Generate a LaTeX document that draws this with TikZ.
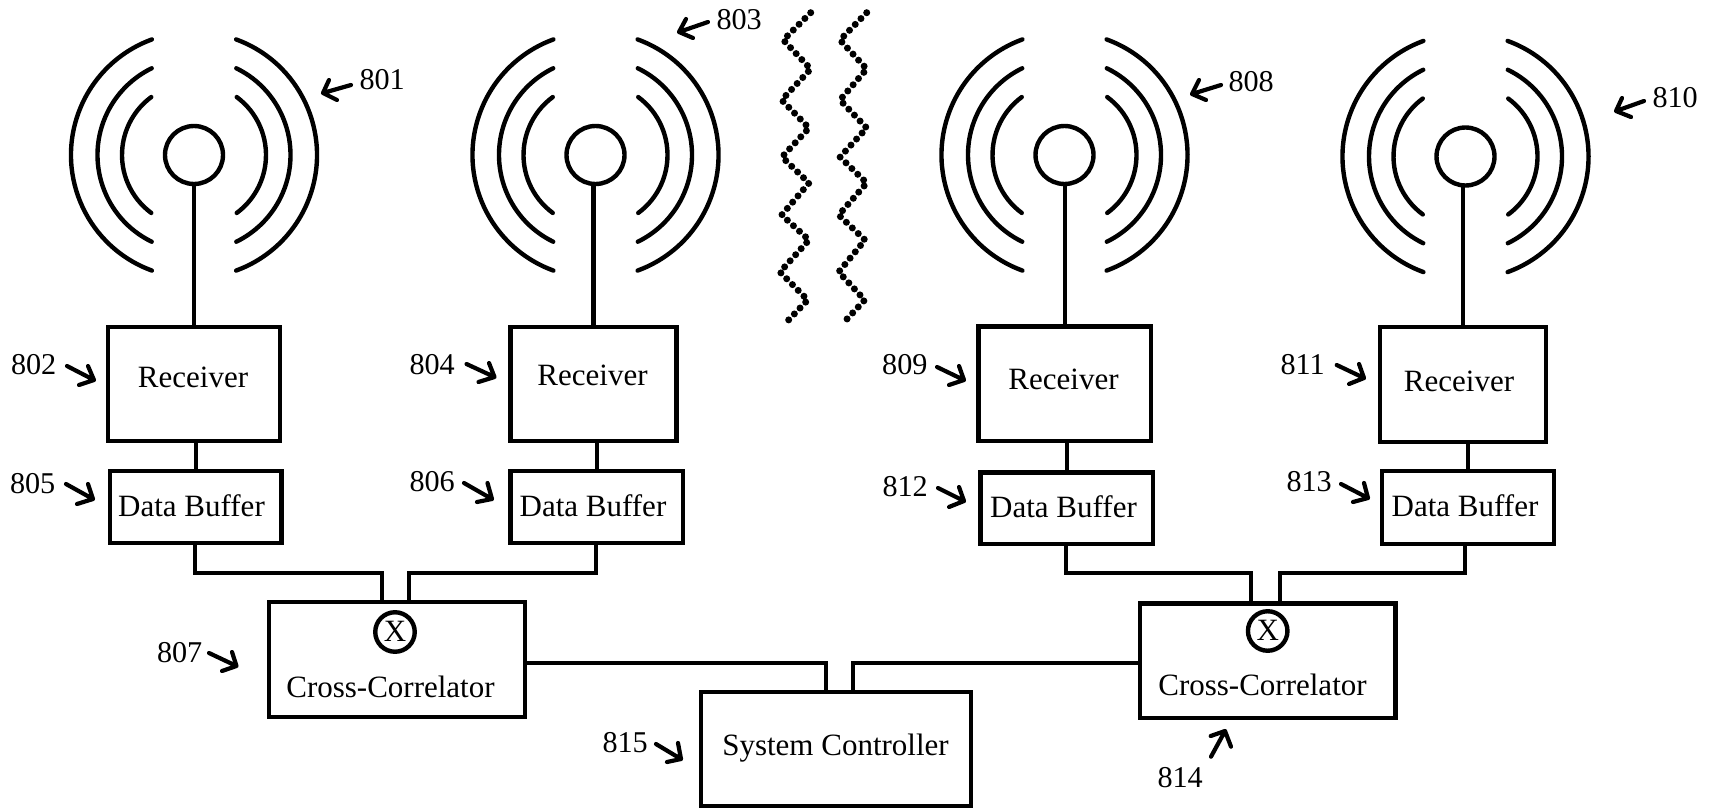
\documentclass[tikz,border=0pt]{standalone}
\usepackage{fontspec}
\setmainfont{Liberation Serif}
\tikzset{
  blockbox/.style={draw=black,line width=4.4pt,rectangle,inner sep=0pt,outer sep=0pt,fill=white},
  headcircle/.style={draw=black,line width=4.4pt,circle,inner sep=0pt,outer sep=0pt,minimum size=58pt},
  mixcircle/.style={draw=black,line width=4.4pt,circle,inner sep=0pt,outer sep=0pt,minimum size=39.5pt,fill=white},
  wave/.style={line width=4.4pt,line cap=round},
  wire/.style={line width=4.4pt,line join=miter},
  ptr/.style={line width=4.2pt,line cap=round,line join=round},
  boxtext/.style={anchor=base,inner sep=0pt,outer sep=0pt,font=\fontsize{31}{34}\selectfont},
  reftext/.style={anchor=base west,inner sep=0pt,outer sep=0pt,font=\fontsize{30.2}{34}\selectfont},
  dots/.style={line width=7pt,line cap=round,dash pattern=on 0pt off 8.2pt}
}
% name, x1, y1, x2, y2
\newcommand{\myblock}[5]{\node[blockbox,minimum width={(#4-#2)*1pt},minimum height={(#5-#3)*1pt}] (#1) at ({(#2+#4)/2},{(#3+#5)/2}) {};}
% name, cx, cy
\newcommand{\myant}[3]{%
  \node[headcircle] (#1) at (#2,#3) {};
  \begin{scope}[shift={(#2,#3)}]
    \draw[wave] (-70:123) arc (-70:70:123);
    \draw[wave] (-64:96.5) arc (-64:64:96.5);
    \draw[wave] (-53.6:72) arc (-53.6:53.6:72);
    \draw[wave] (110:123) arc (110:250:123);
    \draw[wave] (116:96.5) arc (116:244:96.5);
    \draw[wave] (126.4:72) arc (126.4:233.6:72);
  \end{scope}}
% name, x, baseline, text, tail, tip, wing, wing
\newcommand{\myref}[8]{%
  \node[reftext] (#1) at (#2,#3) {#4};
  \coordinate (#1t) at (#5);
  \coordinate (#1p) at (#6);
  \draw[ptr] (#1t) -- (#1p) (#7) -- (#1p) -- (#8);}
\begin{document}
\begin{tikzpicture}[x=1pt,y=-1pt]
\useasboundingbox (0,0) rectangle (1715,810);
\fill[white] (0,0) rectangle (1715,810);

% antennas
\myant{ant1}{194}{155}
\myant{ant2}{595.5}{155}
\myant{ant3}{1064.5}{155}
\myant{ant4}{1465.5}{156.5}

% receivers
\myblock{rec1}{108}{327}{280}{441}
\myblock{rec2}{510.5}{327}{676.5}{441}
\myblock{rec3}{978.5}{326.5}{1151}{441}
\myblock{rec4}{1380}{327}{1546}{442}
% buffers
\myblock{buf1}{110}{471}{281.5}{543}
\myblock{buf2}{510.5}{471}{683}{543}
\myblock{buf3}{980.5}{472.5}{1153}{544}
\myblock{buf4}{1382}{471}{1553.7}{544}
% correlators and controller
\myblock{cc1}{269}{602}{525}{717}
\myblock{cc2}{1140}{603.5}{1395.5}{718}
\myblock{sc}{700.7}{692}{971}{806}

% mixers
\node[mixcircle] (mx1) at (395,632) {};
\node[mixcircle] (mx2) at (1267.7,631) {};

% box texts
\node[boxtext] (trec1) at (193,387) {Receiver};
\node[boxtext] (trec2) at (592.5,385) {Receiver};
\node[boxtext] (trec3) at (1063.5,389) {Receiver};
\node[boxtext] (trec4) at (1459,391) {Receiver};
\node[boxtext] (tbuf1) at (191.5,516) {Data Buffer};
\node[boxtext] (tbuf2) at (593,516) {Data Buffer};
\node[boxtext] (tbuf3) at (1063.5,517) {Data Buffer};
\node[boxtext] (tbuf4) at (1465,516) {Data Buffer};
\node[boxtext] (tcc1) at (390.5,697) {Cross-Correlator};
\node[boxtext] (tcc2) at (1262.5,695) {Cross-Correlator};
\node[boxtext] (tsc) at (835.5,755) {System Controller};
\node[boxtext] (tx1) at (395,641) {X};
\node[boxtext] (tx2) at (1267.7,640) {X};

% stems
\foreach \i in {1,2,3,4}{
  \draw[wire] (rec\i.north) -- (rec\i.north |- ant\i.south);
  \draw[wire] (buf\i.north) -- (buf\i.north |- rec\i.south);
}

% wiring to correlators
\coordinate (j1) at (382,573);
\coordinate (j2) at (409,573);
\coordinate (j3) at (1251,573);
\coordinate (j4) at (1280,573);
\draw[wire] ([xshift=-0.7pt]buf1.south) |- (j1) -- (j1 |- cc1.north);
\draw[wire] ([xshift=-0.7pt]buf2.south) |- (j2) -- (j2 |- cc1.north);
\draw[wire] ([xshift=-1pt]buf3.south) |- (j3) -- (j3 |- cc2.north);
\draw[wire] ([xshift=-2.8pt]buf4.south) |- (j4) -- (j4 |- cc2.north);

% wiring to controller
\coordinate (s1) at (825.7,663);
\coordinate (s2) at (852.7,663);
\draw[wire] (s1 -| cc1.east) -- (s1) -- (s1 |- sc.north);
\draw[wire] (s2 -| cc2.west) -- (s2) -- (s2 |- sc.north);

% reference numerals
\myref{n801}{359.5}{90}{801}{351,85}{323,93}{329,80}{337,100}
\myref{n803}{716.5}{30}{803}{708,22}{679,32}{686,19}{693,38}
\myref{n808}{1228.5}{92}{808}{1221,85}{1192,94}{1199,80}{1206,100}
\myref{n810}{1652.5}{108}{810}{1644,101}{1616,111}{1622,98}{1631,117}
\myref{n802}{11}{374}{802}{67,366}{94,380}{88,366}{79,385}
\myref{n804}{409.5}{374}{804}{466.5,364}{494.5,377}{489,363}{478.5,382}
\myref{n805}{10}{493}{805}{66,484}{93,499}{88,484}{77,504}
\myref{n806}{409.5}{491}{806}{464,483}{492,499}{487.5,483}{477,502}
\myref{n807}{157}{662}{807}{209,653}{236.5,666}{232,652}{222,671}
\myref{n809}{882.2}{374}{809}{937,367}{964,380}{959,366}{949,385}
\myref{n812}{882.5}{496}{812}{938,488}{964,501}{959,487}{949,507}
\myref{n811}{1280.5}{374}{811}{1336.7,365}{1364,378}{1359,364}{1349,384}
\myref{n813}{1286.5}{491}{813}{1341,484}{1368,498}{1364,483}{1353,502}
\myref{n815}{602.5}{752.7}{815}{656,744}{681,759}{678,743}{667,762}
\myref{n814}{1157.5}{787}{814}{1211,756.7}{1225,731}{1210.7,736}{1231,746.7}

% dotted zigzags
\draw[dots] (810.7,12.7) -- (783.3,40) -- (810.7,69) -- (781.7,100) -- (809,128) -- (782,157) -- (809,183) -- (781.7,215) -- (809,240) -- (780,272) -- (807.7,300) -- (785.7,323);
\draw[dots] (866.7,12.7) -- (840,40) -- (866.7,69) -- (840,100) -- (866.7,128) -- (840,157) -- (866.7,183) -- (838.7,215) -- (865,240) -- (838.7,272) -- (864.7,300) -- (843.3,323);
\end{tikzpicture}
\end{document}
